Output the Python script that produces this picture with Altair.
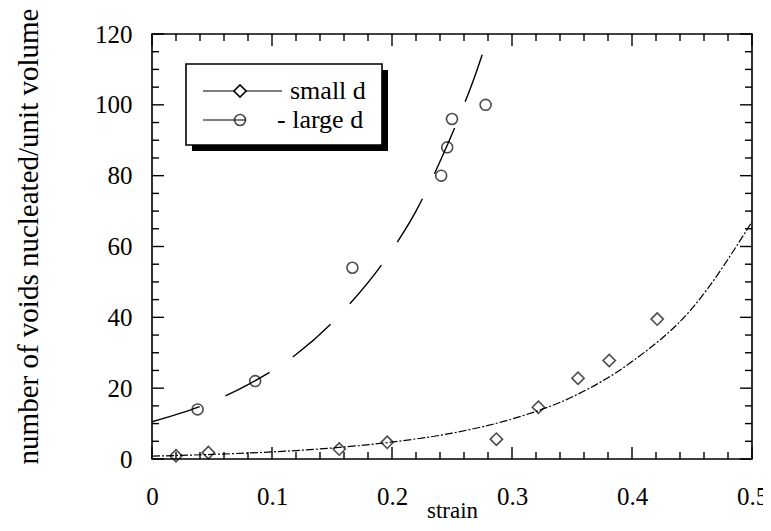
import altair as alt
import pandas as pd

# ---- data ----
small_x = [0.020, 0.047, 0.156, 0.196, 0.287, 0.322, 0.355, 0.381, 0.421]
small_y = [0.9, 1.8, 2.8, 4.7, 5.6, 14.6, 22.8, 27.8, 39.5]

large_x = [0.038, 0.086, 0.167, 0.241, 0.246, 0.250, 0.278]
large_y = [14.0, 22.0, 54.0, 80.0, 88.0, 96.0, 100.0]

# fitted curves
small_fit_x = [0.0, 0.05, 0.10, 0.15, 0.20, 0.25, 0.30, 0.35, 0.40, 0.45, 0.50]
small_fit_y = [0.8, 1.3, 2.0, 3.1, 4.8, 7.3, 11.3, 17.5, 27.5, 42.5, 67.0]

large_fit_x = [0.0, 0.04, 0.08, 0.12, 0.16, 0.20, 0.22, 0.24, 0.26, 0.27, 0.28, 0.2815]
large_fit_y = [10.5, 14.8, 21.0, 29.5, 42.0, 59.0, 70.0, 84.0, 100.0, 109.0, 119.3, 121.0]

x_major = [0.0, 0.1, 0.2, 0.3, 0.4, 0.5]
x_minor = [0.02, 0.04, 0.06, 0.08, 0.12, 0.14, 0.16, 0.18, 0.22, 0.24, 0.26, 0.28,
           0.32, 0.34, 0.36, 0.38, 0.42, 0.44, 0.46, 0.48]
y_major = [0, 20, 40, 60, 80, 100, 120]
y_minor = [5, 10, 15, 25, 30, 35, 45, 50, 55, 65, 70, 75, 85, 90, 95, 105, 110, 115]

FONT = "Liberation Serif"
W, H = 600, 425
X0, X1 = 0.0, 0.5
Y0, Y1 = 0.0, 120.0
MAJ, MIN = 12, 7  # inner tick lengths in pixels

xscale = alt.Scale(domain=[X0, X1], nice=False, zero=False)
yscale = alt.Scale(domain=[Y0, Y1], nice=False)

xaxis = alt.Axis(values=x_major, format="~r", title="strain", grid=False, domain=False,
                 ticks=False, tickSize=0, labelFont=FONT, labelFontSize=25, labelPadding=25,
                 labelColor="black", labelFlush=False, labelOverlap=False,
                 titleFont=FONT, titleFontSize=23, titleFontWeight="normal", titleColor="black",
                 titleY=58, titleBaseline="alphabetic")
yaxis = alt.Axis(values=y_major, format="d", title="number of voids nucleated/unit volume",
                 grid=False, domain=False, ticks=False, tickSize=0, labelFont=FONT,
                 labelFontSize=25, labelPadding=20, labelColor="black", labelFlush=False,
                 labelOverlap=False, titleFont=FONT, titleFontSize=29, titleFontWeight="normal",
                 titleColor="black", titleX=-115, titleY=202, titleAlign="center",
                 titleBaseline="alphabetic")

X = alt.X("strain:Q", scale=xscale, axis=xaxis)
Y = alt.Y("voids:Q", scale=yscale, axis=yaxis)

one = pd.DataFrame({"k": [0]})

# Frame ticks drawn as point symbols whose shape is a short stroke pointing inward.
# For a custom path Vega scales the unit path by sqrt(size)/2, so "M0,0L0,-2" has length sqrt(size).
SHAPES = {"bottom": "M0,0L0,-2", "top": "M0,0L0,2", "left": "M0,0L2,0", "right": "M0,0L-2,0"}


def side_ticks(side, vals, length):
    if side in ("bottom", "top"):
        base = Y0 if side == "bottom" else Y1
        df = pd.DataFrame({"strain": vals, "voids": [base] * len(vals)})
    else:
        base = X0 if side == "left" else X1
        df = pd.DataFrame({"strain": [base] * len(vals), "voids": vals})
    return alt.Chart(df).mark_point(
        shape=SHAPES[side], size=length * length, filled=False, color="black",
        strokeWidth=1.4, opacity=1
    ).encode(x=X, y=Y)


tick_layers = []
for side in ("bottom", "top"):
    tick_layers.append(side_ticks(side, x_major, MAJ))
    tick_layers.append(side_ticks(side, x_minor, MIN))
for side in ("left", "right"):
    tick_layers.append(side_ticks(side, y_major, MAJ))
    tick_layers.append(side_ticks(side, y_minor, MIN))

small_fit = alt.Chart(pd.DataFrame({"strain": small_fit_x, "voids": small_fit_y})).mark_line(
    color="black", strokeWidth=1.2, strokeDash=[8, 2, 2, 2], interpolate="monotone", clip=True
).encode(x=X, y=Y)

large_fit = alt.Chart(pd.DataFrame({"strain": large_fit_x, "voids": large_fit_y})).mark_line(
    color="black", strokeWidth=1.4, strokeDash=[50, 28], interpolate="monotone", clip=True
).encode(x=X, y=Y)

small_pts = alt.Chart(pd.DataFrame({"strain": small_x, "voids": small_y})).mark_point(
    shape="diamond", size=150, color="black", strokeWidth=1.6, filled=False
).encode(x=X, y=Y)

large_pts = alt.Chart(pd.DataFrame({"strain": large_x, "voids": large_y})).mark_point(
    shape="circle", size=120, color="black", strokeWidth=1.6, filled=False
).encode(x=X, y=Y)

# ---- legend box drawn inside the plot ----
shadow = alt.Chart(one).mark_rect(color="black").encode(
    x=alt.value(40), x2=alt.value(236), y=alt.value(36), y2=alt.value(117))
box = alt.Chart(one).mark_rect(fill="white", stroke="black", strokeWidth=1.6).encode(
    x=alt.value(34), x2=alt.value(230), y=alt.value(30), y2=alt.value(111))
leg_line1 = alt.Chart(one).mark_rule(color="black", strokeWidth=1.2).encode(
    x=alt.value(51), x2=alt.value(130), y=alt.value(57))
leg_line2 = alt.Chart(one).mark_rule(color="black", strokeWidth=1.2).encode(
    x=alt.value(51), x2=alt.value(94), y=alt.value(86))
leg_sym1 = alt.Chart(one).mark_point(shape="diamond", size=150, color="black", strokeWidth=1.6,
                                      filled=False, fill="white", fillOpacity=1).encode(
    x=alt.value(88), y=alt.value(57))
leg_sym2 = alt.Chart(one).mark_point(shape="circle", size=120, color="black", strokeWidth=1.6,
                                      filled=False).encode(x=alt.value(88), y=alt.value(86))
leg_txt1 = alt.Chart(one).mark_text(font=FONT, fontSize=26, align="left", baseline="middle",
                                     color="black").encode(
    x=alt.value(138), y=alt.value(57), text=alt.value("small d"))
leg_txt2 = alt.Chart(one).mark_text(font=FONT, fontSize=26, align="left", baseline="middle",
                                     color="black").encode(
    x=alt.value(125), y=alt.value(86), text=alt.value("- large d"))

chart = alt.layer(
    small_fit, large_fit, small_pts, large_pts, *tick_layers,
    shadow, box, leg_line1, leg_line2, leg_sym1, leg_sym2, leg_txt1, leg_txt2
).properties(
    width=W, height=H,
    autosize=alt.AutoSizeParams(type="none"),
    padding={"left": 144, "top": 26, "right": 11, "bottom": 64},
    background="white",
).configure_view(stroke="black", strokeWidth=1.6)

chart.save("out.html", embed_options={"renderer": "svg", "actions": False})
